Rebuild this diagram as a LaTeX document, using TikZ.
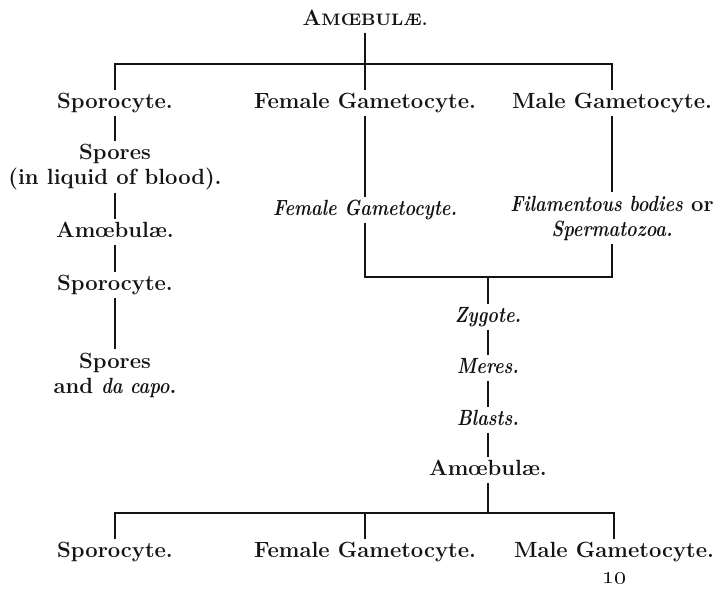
\documentclass[tikz,border=0pt]{standalone}
\usepackage{tikz}
\usepackage{graphicx}
\usetikzlibrary{positioning}
\definecolor{inkblack}{HTML}{141414}
\newcommand{\rmtext}{\fontsize{11}{12.5}\selectfont\bfseries}
\newcommand{\itxt}[1]{{\fontsize{11}{12.5}\selectfont\bfseries\itshape\scalebox{0.82}[1]{#1}}}

\begin{document}
\begin{tikzpicture}[x=0.5pt, y=-0.5pt, inkblack,
    lbl/.style={font=\rmtext, inner sep=1.5pt, text height=7.5pt, text depth=2pt},
    twoline/.style={font=\rmtext, inner sep=1.5pt, align=center},
    link/.style={draw=inkblack, line width=0.9pt}]
  % Life cycle chart, sexual and asexual branches
  \useasboundingbox (0,0) rectangle (721,590);
  \node[lbl] (top) at (365,20)
    {\fontsize{11}{12.5}\selectfont A\fontsize{8.3}{10}\selectfont MŒBULÆ.};

  % first generation
  \node[lbl] (spo1) at (115,103) {Sporocyte.};
  \node[lbl] (fg1) at (365,103) {Female Gametocyte.};
  \node[lbl] (mg1) at (612,103) {Male Gametocyte.};

  % asexual cycle
  \node[twoline] (spr1) at (115,167) {Spores\\(in liquid of blood).};
  \node[lbl] (amb1) at (115,232) {Amœbulæ.};
  \node[lbl] (spo3) at (115,285) {Sporocyte.};
  \node[twoline] (spr2) at (115,375) {Spores\\and \itxt{da capo}.};

  % sexual cycle
  \node[lbl] (fgi) at (365,210) {\itxt{Female Gametocyte.}};
  \node[twoline] (fil) at (612,218)
    {\itxt{Filamentous bodies} or\\\itxt{Spermatozoa.}};
  \foreach \name/\y/\txt in {zyg/317/Zygote., mer/368/Meres., bla/420/Blasts.}
    \node[lbl] (\name) at (488,\y) {\itxt{\txt}};
  \node[lbl] (amb2) at (488,470) {Amœbulæ.};

  % second generation
  \foreach \name/\x/\txt in {spo2/115/Sporocyte., fg2/365/Female Gametocyte., mg2/614/Male Gametocyte.}
    \node[lbl] (\name) at (\x,552) {\txt};
  \node[font=\fontsize{13}{14}\selectfont\bfseries, inner sep=1pt] (pg) at (614,578) {\oldstylenums{10}};

  \coordinate (jt) at (365,64);
  \coordinate (jm) at (488,277);
  \coordinate (jb) at (488,513);

  \draw[link] (top) -- (fg1);
  \draw[link] (spo1) |- (jt) -| (mg1);
  \draw[link] (fgi) |- (jm) -| (fil);
  \draw[link] (spo2) |- (jb) -| (mg2);
  \draw[link] (fg2) -- (fg2 |- jb);
  \foreach \a/\b in {spo1/spr1, spr1/amb1, amb1/spo3, spo3/spr2, fg1/fgi, mg1/fil,
                     jm/zyg, zyg/mer, mer/bla, bla/amb2, amb2/jb}
    \draw[link] (\a) -- (\b);
\end{tikzpicture}
\end{document}
